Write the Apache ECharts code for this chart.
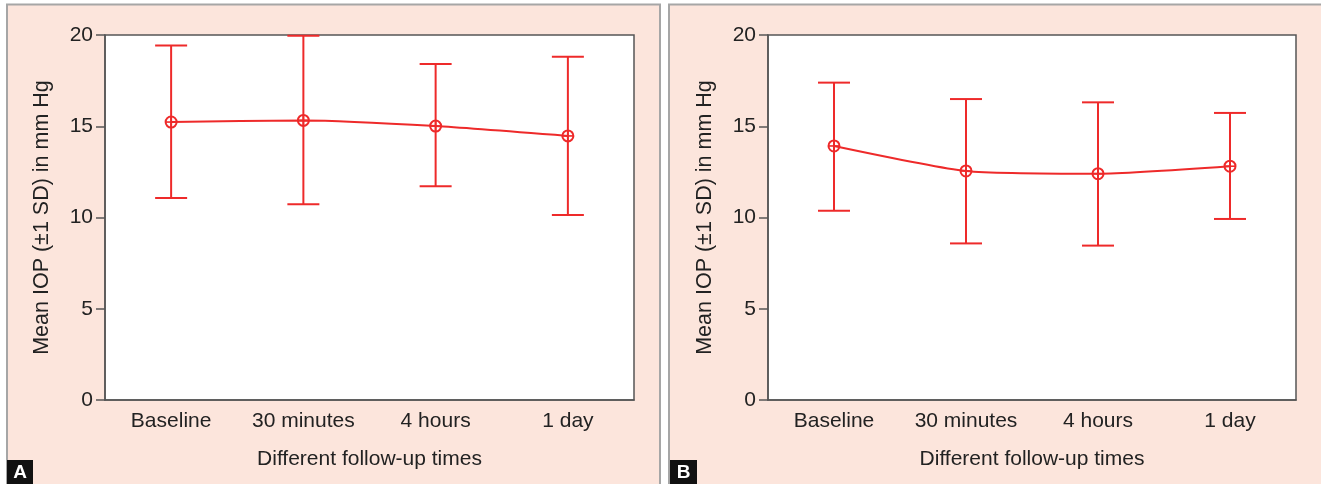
<!DOCTYPE html>
<html><head><meta charset="utf-8">
<script src="https://cdn.jsdelivr.net/npm/echarts@6/dist/echarts.min.js"></script>
<style>html,body{margin:0;padding:0;background:#fff}#c{width:1321px;height:484px}</style>
</head><body><div id="c"></div>
<script>
const categories = ['Baseline', '30 minutes', '4 hours', '1 day'];
const meanA = [15.23, 15.32, 15.01, 14.47];
const upperA = [19.42, 19.96, 18.41, 18.81];
const lowerA = [11.07, 10.72, 11.71, 10.14];
const meanB = [13.92, 12.55, 12.40, 12.81];
const upperB = [17.39, 16.49, 16.31, 15.73];
const lowerB = [10.37, 8.58, 8.46, 9.92];
const yName = 'Mean IOP (\u00b11 SD) in mm Hg';
const xName = 'Different follow-up times';

const RED = '#ee2a2a';
const FONT = '"Liberation Sans", Arial, Helvetica, sans-serif';
const chart = echarts.init(document.getElementById('c'), null, {renderer: 'canvas'});

function errData(lo, hi) { return categories.map((c, i) => [i, lo[i], hi[i]]); }
function errRender(params, api) {
  const x = api.value(0);
  const lo = api.coord([x, api.value(1)]);
  const hi = api.coord([x, api.value(2)]);
  const hw = 16;
  const st = {stroke: RED, lineWidth: 2};
  return {type: 'group', children: [
    {type: 'line', shape: {x1: lo[0], y1: lo[1], x2: hi[0], y2: hi[1]}, style: st},
    {type: 'line', shape: {x1: lo[0]-hw, y1: lo[1], x2: lo[0]+hw, y2: lo[1]}, style: st},
    {type: 'line', shape: {x1: hi[0]-hw, y1: hi[1], x2: hi[0]+hw, y2: hi[1]}, style: st}
  ]};
}
function markRender(params, api) {
  const p = api.coord([api.value(0), api.value(1)]);
  const r = 5.5;
  const st = {stroke: RED, lineWidth: 1.6, fill: null};
  return {type: 'group', children: [
    {type: 'circle', shape: {cx: p[0], cy: p[1], r: r}, style: {stroke: RED, lineWidth: 2, fill: 'rgba(0,0,0,0)'}},
    {type: 'line', shape: {x1: p[0]-r, y1: p[1], x2: p[0]+r, y2: p[1]}, style: st},
    {type: 'line', shape: {x1: p[0], y1: p[1]-r, x2: p[0], y2: p[1]+r}, style: st}
  ]};
}
function meanData(m) { return categories.map((c, i) => [i, m[i]]); }

function xAxis(idx) {
  return {
    type: 'category', gridIndex: idx, data: categories, boundaryGap: true,
    axisLine: {show: true, lineStyle: {color: '#555', width: 1.5}},
    axisTick: {show: false},
    axisLabel: {color: '#222', fontSize: 21, fontFamily: FONT, margin: 11, interval: 0, hideOverlap: false},
    name: xName, nameLocation: 'middle', nameGap: 49,
    nameTextStyle: {color: '#222', fontSize: 21, fontFamily: FONT},
    splitLine: {show: false}
  };
}
function yAxis(idx) {
  return {
    type: 'value', gridIndex: idx, min: 0, max: 20, interval: 5,
    axisLine: {show: true, lineStyle: {color: '#555', width: 1.5}},
    axisTick: {show: true, inside: false, length: 9, lineStyle: {color: '#555', width: 1.5}},
    axisLabel: {color: '#222', fontSize: 21, fontFamily: FONT, margin: 12},
    name: yName, nameLocation: 'middle', nameGap: 52,
    nameTextStyle: {color: '#222', fontSize: 21.5, fontFamily: FONT},
    splitLine: {show: false}
  };
}

const option = {
  animation: false,
  backgroundColor: '#fff',
  graphic: [
    {type: 'rect', z: -10, shape: {x: 7, y: 4.5, width: 653, height: 490}, style: {fill: '#fce5dc', stroke: '#a6a6a6', lineWidth: 2}},
    {type: 'rect', z: -10, shape: {x: 669, y: 4.5, width: 700, height: 490}, style: {fill: '#fce5dc', stroke: '#a6a6a6', lineWidth: 2}},
    {type: 'rect', z: 10, shape: {x: 7, y: 460, width: 26, height: 24}, style: {fill: '#111'}},
    {type: 'text', z: 11, x: 20, y: 473, style: {text: 'A', fill: '#fff', font: 'bold 19px ' + FONT, align: 'center', verticalAlign: 'middle'}},
    {type: 'rect', z: 10, shape: {x: 670, y: 460, width: 27, height: 24}, style: {fill: '#111'}},
    {type: 'text', z: 11, x: 683.5, y: 473, style: {text: 'B', fill: '#fff', font: 'bold 19px ' + FONT, align: 'center', verticalAlign: 'middle'}}
  ],
  grid: [
    {left: 105, top: 35, width: 529, height: 365, show: true, backgroundColor: '#fff', borderColor: '#555', borderWidth: 1.5},
    {left: 768, top: 35, width: 528, height: 365, show: true, backgroundColor: '#fff', borderColor: '#555', borderWidth: 1.5}
  ],
  xAxis: [xAxis(0), xAxis(1)],
  yAxis: [yAxis(0), yAxis(1)],
  series: [
    {type: 'line', xAxisIndex: 0, yAxisIndex: 0, data: meanA, showSymbol: false, smooth: 0.2, lineStyle: {color: RED, width: 2}, z: 3},
    {type: 'custom', xAxisIndex: 0, yAxisIndex: 0, data: errData(lowerA, upperA), renderItem: errRender, z: 2},
    {type: 'custom', xAxisIndex: 0, yAxisIndex: 0, data: meanData(meanA), renderItem: markRender, z: 4},
    {type: 'line', xAxisIndex: 1, yAxisIndex: 1, data: meanB, showSymbol: false, smooth: 0.2, lineStyle: {color: RED, width: 2}, z: 3},
    {type: 'custom', xAxisIndex: 1, yAxisIndex: 1, data: errData(lowerB, upperB), renderItem: errRender, z: 2},
    {type: 'custom', xAxisIndex: 1, yAxisIndex: 1, data: meanData(meanB), renderItem: markRender, z: 4}
  ]
};
chart.setOption(option);
</script></body></html>
